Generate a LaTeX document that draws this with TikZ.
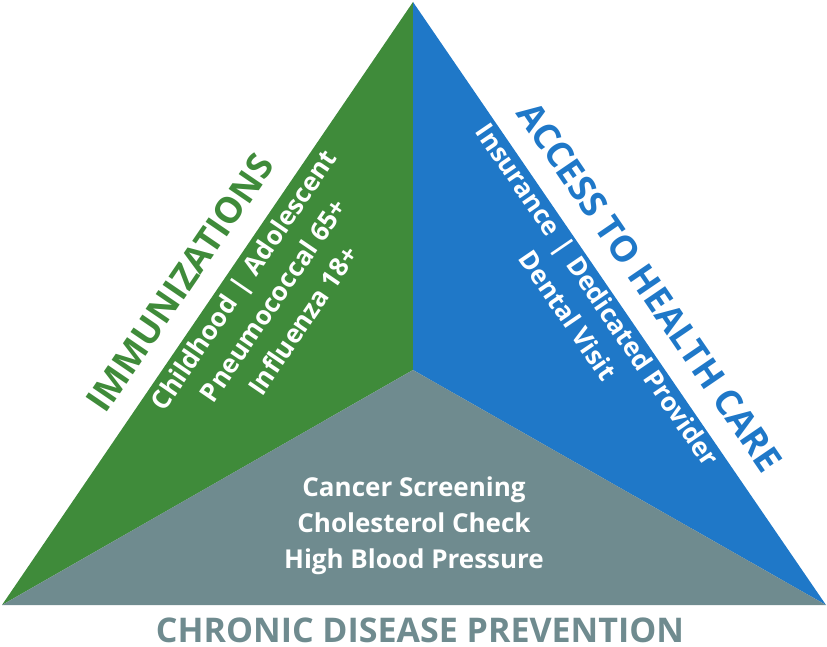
\documentclass[tikz,border=0pt]{standalone}
\usepackage{fontspec}
\setmainfont{Open Sans}
\definecolor{grn}{HTML}{3F8B3A}
\definecolor{blu}{HTML}{1F78C8}
\definecolor{gry}{HTML}{6F8B8F}
\begin{document}
\begin{tikzpicture}[x=1pt,y=-1pt,
  lbl/.style={font=\bfseries\fontsize{26}{36}\selectfont,text=white,align=center},
  ttl/.style={font=\bfseries\fontsize{36}{40}\selectfont}]
\useasboundingbox (0,0) rectangle (827,647);
\coordinate (A) at (413,2);
\coordinate (L) at (2,605);
\coordinate (R) at (826,605);
\coordinate (C) at (413,370);
\fill[grn] (A) -- (L) -- (C) -- cycle;
\fill[blu] (A) -- (C) -- (R) -- cycle;
\fill[gry] (L) -- (C) -- (R) -- cycle;
\node[ttl,text=grn,rotate=55.7] (imm) at (180,283) {IMMUNIZATIONS};
\node[lbl,rotate=55.7] (immt) at (273,300) {Childhood\,\,|\,\,Adolescent\\Pneumococcal 65+\\Influenza 18+};
\node[ttl,text=blu,rotate=-55.7] (acc) at (650,287) {ACCESS TO HEALTH CARE};
\node[lbl,rotate=-55.7] (acct) at (583,305) {Insurance\,\,|\,\,Dedicated Provider\\Dental Visit};
\node[lbl] (chr) at (414,526) {Cancer Screening\\Cholesterol Check\\High Blood Pressure};
\node[ttl,text=gry,font=\bfseries\fontsize{34}{36}\selectfont,inner sep=0pt] (cdp) at (420,630) {CHRONIC DISEASE PREVENTION};
\end{tikzpicture}
\end{document}
